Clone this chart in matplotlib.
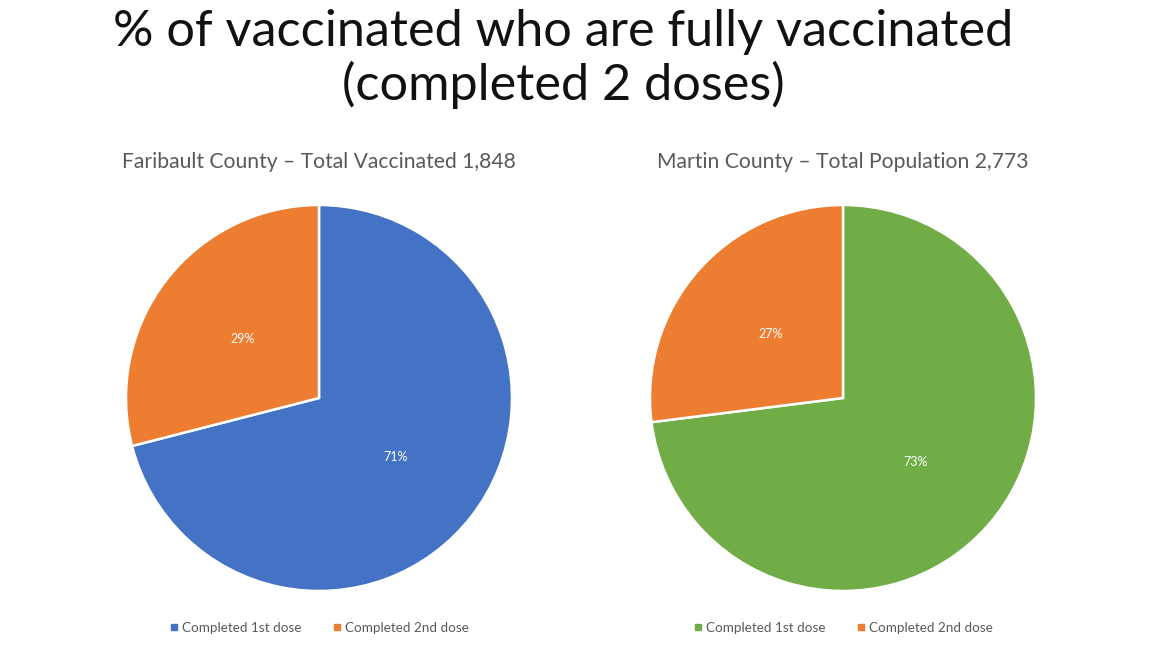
import matplotlib.pyplot as plt
from matplotlib.lines import Line2D

plt.rcParams['font.family'] = ['Lato', 'DejaVu Sans']

title = "% of vaccinated who are fully vaccinated\n(completed 2 doses)"
counties = ["Faribault County \u2013 Total Vaccinated 1,848",
            "Martin County \u2013 Total Population 2,773"]
labels = ["Completed 1st dose", "Completed 2nd dose"]
faribault = [71, 29]
martin = [73, 27]
colors_left = ["#4472C4", "#ED7D31"]
colors_right = ["#70AD47", "#ED7D31"]

W, H = 1150, 652
fig = plt.figure(figsize=(W / 100, H / 100), dpi=100)
fig.patch.set_facecolor("white")

fig.text(563 / W, 1 - 59 / H, title, ha="center", va="center",
         fontsize=36.3, color="#111111", linespacing=1.15)

r = 193
for cx, vals, cols, name in [(319, faribault, colors_left, counties[0]),
                             (843, martin, colors_right, counties[1])]:
    ax = fig.add_axes([(cx - r) / W, (H - 398 - r) / H, 2 * r / W, 2 * r / H])
    wedges, texts, autotexts = ax.pie(
        vals, colors=cols, startangle=90, counterclock=False, radius=1,
        autopct="%d%%", pctdistance=0.5,
        wedgeprops=dict(edgecolor="white", linewidth=1.8),
        textprops=dict(color="white", fontsize=9))
    ax.set_xlim(-1, 1)
    ax.set_ylim(-1, 1)
    ax.set_aspect("auto")
    ax.axis("off")
    fig.text(cx / W, 1 - 162 / H, name, ha="center", va="center",
             fontsize=15.2, color="#595959")
    handles = [Line2D([], [], marker="s", linestyle="none", color=c,
                      markersize=5) for c in cols]
    fig.legend(handles, labels, loc="center", ncol=2,
               bbox_to_anchor=(cx / W, 1 - 628 / H), frameon=False,
               fontsize=9.7, labelcolor="#595959", handletextpad=0.2,
               columnspacing=2.2, handlelength=0.8)

fig.savefig("out.png", dpi=100)
